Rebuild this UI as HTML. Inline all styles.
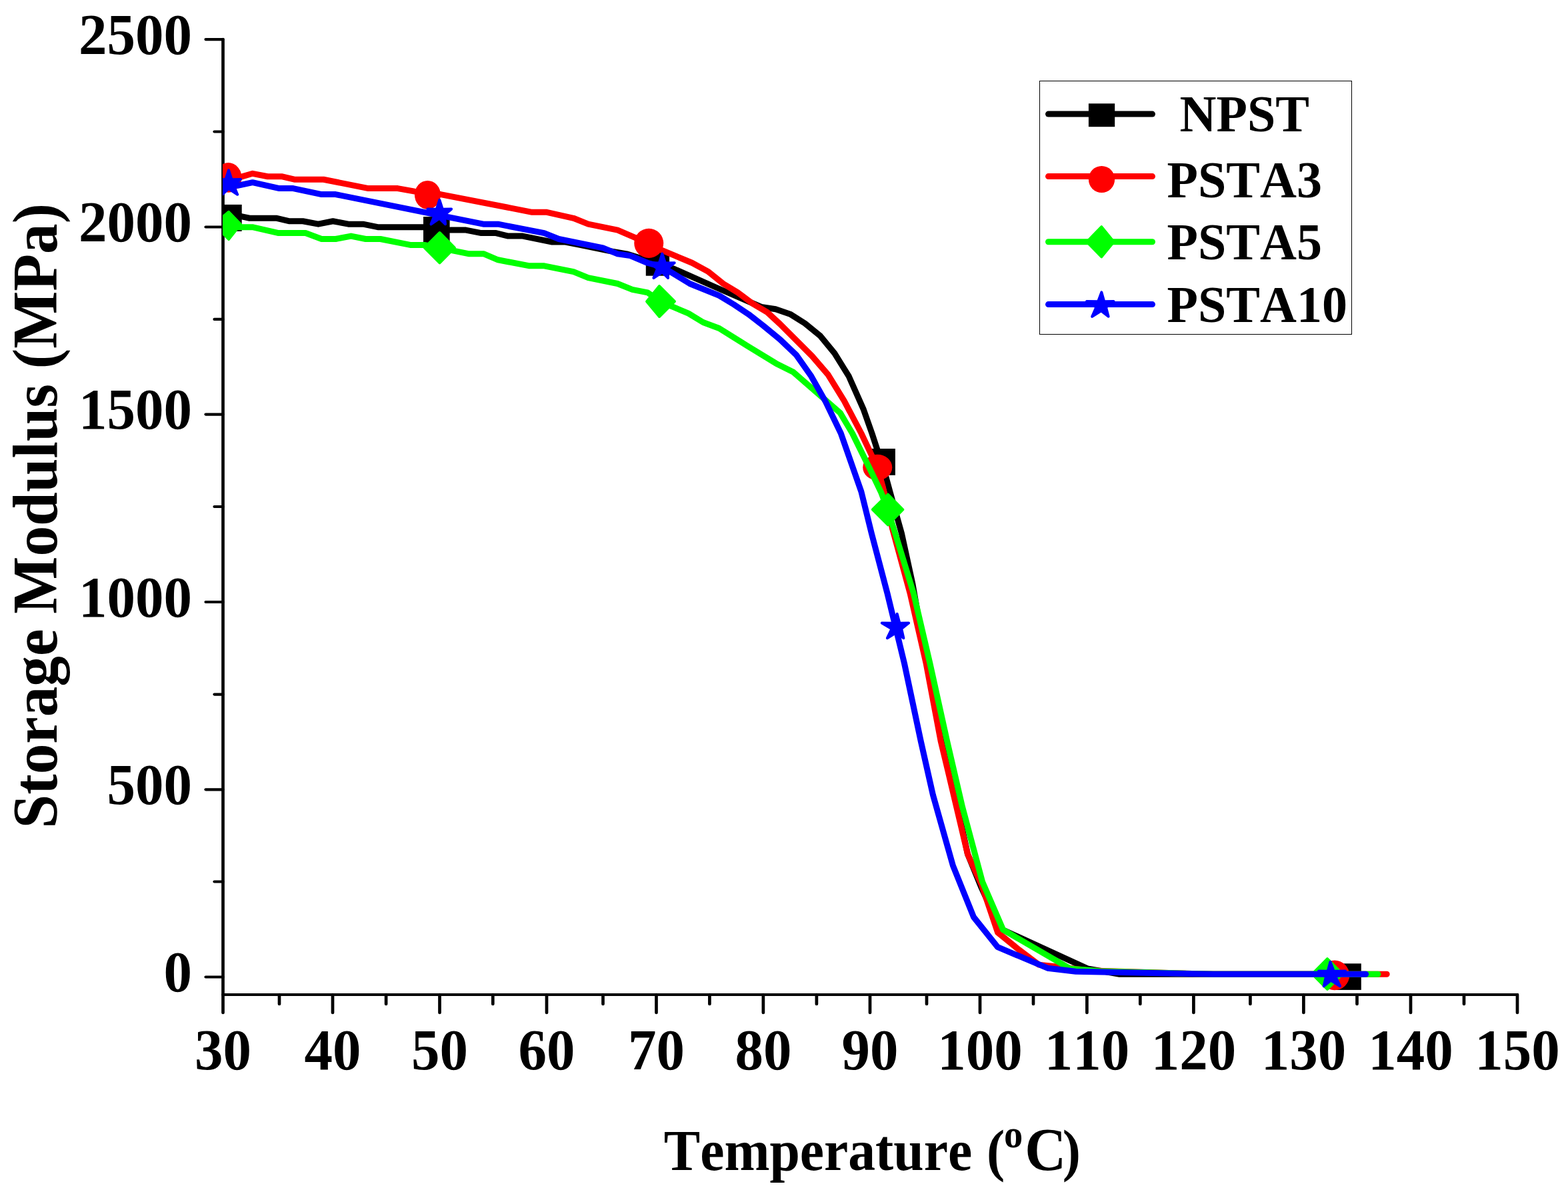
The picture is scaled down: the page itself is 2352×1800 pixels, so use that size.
<!DOCTYPE html>
<html lang="en"><head><meta charset="utf-8"><title>Storage Modulus vs Temperature</title>
<style>
html,body{margin:0;padding:0;background:#fff;}
body{width:2352px;height:1800px;overflow:hidden;}
svg{display:block;}
text{font-family:"Liberation Serif","DejaVu Serif",serif;font-weight:bold;fill:#000;font-kerning:none;font-variant-ligatures:none;}
.tk{font-size:83.3px;}
.lg{font-size:75px;}
.ax{stroke:#000;stroke-linecap:round;fill:none;}
.ln{fill:none;stroke-width:9;stroke-linejoin:round;stroke-linecap:round;}
</style></head><body>
<svg width="2352" height="1800" viewBox="0 0 2352 1800" role="img" aria-label="Storage modulus versus temperature for NPST, PSTA3, PSTA5 and PSTA10">
<rect width="2352" height="1800" fill="#fff"/>
<defs><clipPath id="plot"><rect x="334" y="0" width="2018" height="1492"/></clipPath></defs>
<g class="ax">
<line x1="334.5" y1="59.1" x2="334.5" y2="1492" stroke-width="4.7"/>
<line x1="334.5" y1="1492" x2="2276" y2="1492" stroke-width="4.2"/>
<line x1="334.5" y1="1492" x2="334.5" y2="1519" stroke-width="4.7"/>
<line x1="419" y1="1492" x2="419" y2="1506" stroke-width="4.7"/>
<line x1="499" y1="1492" x2="499" y2="1519" stroke-width="4.7"/>
<line x1="579.1" y1="1492" x2="579.1" y2="1506" stroke-width="4.7"/>
<line x1="659.5" y1="1492" x2="659.5" y2="1519" stroke-width="4.7"/>
<line x1="739.3" y1="1492" x2="739.3" y2="1506" stroke-width="4.7"/>
<line x1="820" y1="1492" x2="820" y2="1519" stroke-width="4.7"/>
<line x1="904.5" y1="1492" x2="904.5" y2="1506" stroke-width="4.7"/>
<line x1="984.5" y1="1492" x2="984.5" y2="1519" stroke-width="4.7"/>
<line x1="1064.4" y1="1492" x2="1064.4" y2="1506" stroke-width="4.7"/>
<line x1="1144.9" y1="1492" x2="1144.9" y2="1519" stroke-width="4.7"/>
<line x1="1224.9" y1="1492" x2="1224.9" y2="1506" stroke-width="4.7"/>
<line x1="1305" y1="1492" x2="1305" y2="1519" stroke-width="4.7"/>
<line x1="1390" y1="1492" x2="1390" y2="1506" stroke-width="4.7"/>
<line x1="1470" y1="1492" x2="1470" y2="1519" stroke-width="4.7"/>
<line x1="1550" y1="1492" x2="1550" y2="1506" stroke-width="4.7"/>
<line x1="1630.4" y1="1492" x2="1630.4" y2="1519" stroke-width="4.7"/>
<line x1="1710.3" y1="1492" x2="1710.3" y2="1506" stroke-width="4.7"/>
<line x1="1790.4" y1="1492" x2="1790.4" y2="1519" stroke-width="4.7"/>
<line x1="1875.4" y1="1492" x2="1875.4" y2="1506" stroke-width="4.7"/>
<line x1="1955.4" y1="1492" x2="1955.4" y2="1519" stroke-width="4.7"/>
<line x1="2035.5" y1="1492" x2="2035.5" y2="1506" stroke-width="4.7"/>
<line x1="2116" y1="1492" x2="2116" y2="1519" stroke-width="4.7"/>
<line x1="2196" y1="1492" x2="2196" y2="1506" stroke-width="4.7"/>
<line x1="2276" y1="1492" x2="2276" y2="1519" stroke-width="4.7"/>
<line x1="334.5" y1="1465.5" x2="308.5" y2="1465.5" stroke-width="4.2"/>
<line x1="334.5" y1="1322.5" x2="321.5" y2="1322.5" stroke-width="4.2"/>
<line x1="334.5" y1="1184.3" x2="308.5" y2="1184.3" stroke-width="4.2"/>
<line x1="334.5" y1="1041.6" x2="321.5" y2="1041.6" stroke-width="4.2"/>
<line x1="334.5" y1="903" x2="308.5" y2="903" stroke-width="4.2"/>
<line x1="334.5" y1="760" x2="321.5" y2="760" stroke-width="4.2"/>
<line x1="334.5" y1="621.6" x2="308.5" y2="621.6" stroke-width="4.2"/>
<line x1="334.5" y1="478.9" x2="321.5" y2="478.9" stroke-width="4.2"/>
<line x1="334.5" y1="340.5" x2="308.5" y2="340.5" stroke-width="4.2"/>
<line x1="334.5" y1="197.5" x2="321.5" y2="197.5" stroke-width="4.2"/>
<line x1="334.5" y1="59.1" x2="308.5" y2="59.1" stroke-width="4.2"/>
</g>
<g clip-path="url(#plot)">
<g>
<polyline class="ln" stroke="#000000" points="343,322.8 362,324.6 374.2,327.27 415.2,327.27 433.3,331.73 454.3,331.73 477.4,336.19 499.4,331.73 522.5,336.19 544.5,336.19 566.6,340.66 634.7,340.66 654.8,343 676,345.12 698.9,345.12 721.9,349.59 744,349.59 762.1,354.05 784.1,354.05 828.2,362.98 848.2,362.98 870,367.45 892,371.91 914,376.38 940,380.84 962,387.5 986.6,396.5 1010.6,403.16 1076,432 1142,460.5 1163.5,463.8 1186,471.6 1207.3,485 1230,503.4 1251.8,529.8 1273.4,564.7 1295.4,614.4 1307.9,650 1315.4,673 1324.7,700 1335.4,739.3 1352.4,800 1369,876.2 1377.5,925 1396,1016 1416,1112 1434,1200 1451.5,1281 1471.5,1330 1500.5,1393 1631.2,1452.9 1679.3,1461.25 1740,1461.25 1800,1461.25 2022,1461.25"/>
<rect x="323" y="306.9" width="39.7" height="40" fill="#000000"/>
<rect x="635" y="325.1" width="39.6" height="39.5" fill="#000000"/>
<rect x="968.8" y="378" width="35.3" height="35.7" fill="#000000"/>
<rect x="1306.7" y="673" width="36.2" height="39.8" fill="#000000"/>
<rect x="2002" y="1445.3" width="39.8" height="39.6" fill="#000000"/>
</g>
<g>
<polyline class="ln" stroke="#ff0000" points="343,266.5 357,266.6 378.9,260.3 401.5,264.76 423.4,264.76 441.5,269.23 485.4,269.23 552.5,282.62 596.6,282.62 621.9,287.09 641.4,289.9 661,291.55 798.1,318.34 820.2,318.34 860.3,327.27 882.3,336.19 926.4,345.12 951.9,356.1 973.5,367.45 995.3,376.38 1038,394.23 1062.7,407.63 1084.8,425.48 1106.8,438.88 1128.9,455.4 1150.9,468.4 1170.1,486.1 1218.2,534.2 1242.3,562.3 1266.3,601.4 1291.9,650 1316,701 1324.3,730.4 1338.6,793 1365.1,890 1389.1,995 1411.2,1112 1421.4,1154.1 1451.5,1281.4 1472.5,1327.5 1496.6,1398.7 1529.2,1425.2 1558.3,1447.1 1590.4,1450.5 1631.2,1455.8 1720,1458.6 1820,1461.25 2002.5,1461.25 2080.2,1461.25"/>
<ellipse cx="342.5" cy="266.4" rx="20" ry="22.3" fill="#ff0000"/>
<ellipse cx="641.45" cy="292.35" rx="19.55" ry="21.45" fill="#ff0000"/>
<ellipse cx="973.25" cy="364.86" rx="22" ry="22.1" fill="#ff0000"/>
<ellipse cx="1316.25" cy="701.1" rx="22.05" ry="19.4" fill="#ff0000"/>
<ellipse cx="2001.9" cy="1462.9" rx="22.25" ry="22.4" fill="#ff0000"/>
</g>
<g>
<polyline class="ln" stroke="#00ff00" points="343,338.5 357,340.66 378.6,340.66 417.9,349.59 458.3,349.59 482.4,358.52 503.4,358.52 526.5,354.05 548.5,358.52 570.6,358.52 615.3,367.45 636.7,367.45 659.4,371.91 703.9,380.84 725.9,380.84 747,389.77 793.1,398.7 815.2,398.7 860.3,407.63 882.3,416.56 926.4,425.48 948.5,434.41 971.5,438.88 990.6,452.27 1032.7,470.13 1054.7,483.52 1078.8,492.45 1120,518.2 1164.1,545.2 1190.2,558.3 1260.3,619.4 1278.5,650 1304.4,702.6 1322,739.3 1331.5,764.7 1342.8,800 1370.4,890 1394.9,995 1420.7,1112 1443.5,1210.2 1473.5,1322.5 1504.6,1394.6 1605,1452.9 1650,1456.78 1820,1461.25 1991.2,1461.25 2067,1461.25"/>
<path d="M343.04 317.8 L360.94 336.4 L343.04 358.9 L321.04 336.4 Z" fill="#00ff00" stroke="#00ff00" stroke-width="4" stroke-linejoin="round"/>
<path d="M659.5 349 L681.9 371.7 L659.5 394.4 L636.8 371.7 Z" fill="#00ff00" stroke="#00ff00" stroke-width="4" stroke-linejoin="round"/>
<path d="M989 429.1 L1012 452.2 L989 475 L970.1 452.2 Z" fill="#00ff00" stroke="#00ff00" stroke-width="4" stroke-linejoin="round"/>
<path d="M1331.9 741.7 L1354.3 764.3 L1331.9 787.3 L1308.9 764.3 Z" fill="#00ff00" stroke="#00ff00" stroke-width="4" stroke-linejoin="round"/>
<path d="M1991 1438.1 L2013.6 1461 L1991 1483.9 L1968.5 1461 Z" fill="#00ff00" stroke="#00ff00" stroke-width="4" stroke-linejoin="round"/>
</g>
<g>
<polyline class="ln" stroke="#0000ff" points="343,278.16 357.8,278.16 378.9,273.69 419,282.62 439.8,282.62 482.4,291.55 503.4,291.55 658.8,322.8 724.9,336.19 747,336.19 816.2,349.59 838.2,358.52 904.4,371.91 926.4,380.84 945.5,383.6 971,394.23 993.6,400.3 1034.7,425.48 1078.8,443.34 1100.8,456.74 1122.9,471.4 1144.9,488.5 1170.1,509.2 1194.2,532.2 1216.2,563.3 1238.3,602.4 1261.3,650 1291.9,737.5 1307.3,800 1331,890 1356.5,995 1381.3,1112 1399.4,1192.2 1429.4,1298.4 1460.5,1375.6 1496.6,1420.7 1571.4,1452.2 1613.7,1457.3 1820,1461.25 1996.4,1461.25 2048.7,1461.25"/>
<path d="M343 255.3 L347.53 269.17 L361 269 L350.32 277.78 L356.2 291.7 L343 283.1 L333.3 291.7 L335.68 277.78 L325 269 L338.47 269.17 Z" fill="#0000ff" stroke="#0000ff" stroke-width="4" stroke-linejoin="round"/>
<path d="M659.3 299.9 L663.81 313.77 L677.1 313.6 L666.61 322.38 L668.1 336.3 L659.28 327.7 L646.5 336.3 L651.96 322.38 L641.4 313.6 L654.76 313.77 Z" fill="#0000ff" stroke="#0000ff" stroke-width="4" stroke-linejoin="round"/>
<path d="M993.35 380.6 L997.94 394.47 L1011.75 394.3 L1000.73 403.08 L1002.1 417 L993.41 408.4 L980.4 417 L986.09 403.08 L975.35 394.3 L988.88 394.47 Z" fill="#0000ff" stroke="#0000ff" stroke-width="4" stroke-linejoin="round"/>
<path d="M1345.7 920.8 L1349.4 934.67 L1363.1 934.5 L1352.2 943.28 L1355.4 957.2 L1344.88 948.6 L1330.9 957.2 L1337.55 943.28 L1322.8 934.5 L1340.35 934.67 Z" fill="#0000ff" stroke="#0000ff" stroke-width="4" stroke-linejoin="round"/>
<path d="M1995.45 1442.8 L2000.75 1456.67 L2018.05 1456.5 L2003.55 1465.28 L2010.05 1479.2 L1996.22 1470.6 L1985.65 1479.2 L1988.9 1465.28 L1978 1456.5 L1991.7 1456.67 Z" fill="#0000ff" stroke="#0000ff" stroke-width="4" stroke-linejoin="round"/>
</g>
</g>
<g class="tk" text-anchor="middle">
<text transform="translate(334.5,1604.2) scale(1.02,1.043)">30</text>
<text transform="translate(499,1604.2) scale(1.02,1.043)">40</text>
<text transform="translate(659.5,1604.2) scale(1.02,1.043)">50</text>
<text transform="translate(820,1604.2) scale(1.02,1.043)">60</text>
<text transform="translate(984.5,1604.2) scale(1.02,1.043)">70</text>
<text transform="translate(1144.9,1604.2) scale(1.02,1.043)">80</text>
<text transform="translate(1305,1604.2) scale(1.02,1.043)">90</text>
<text transform="translate(1470,1604.2) scale(1.02,1.043)">100</text>
<text transform="translate(1630.4,1604.2) scale(1.02,1.043)">110</text>
<text transform="translate(1790.4,1604.2) scale(1.02,1.043)">120</text>
<text transform="translate(1955.4,1604.2) scale(1.02,1.043)">130</text>
<text transform="translate(2116,1604.2) scale(1.02,1.043)">140</text>
<text transform="translate(2276,1604.2) scale(1.02,1.043)">150</text>
</g>
<g class="tk" text-anchor="end">
<text transform="translate(288.0,1487.1) scale(1.02,1.043)">0</text>
<text transform="translate(288.0,1205.9) scale(1.02,1.043)">500</text>
<text transform="translate(288.0,924.6) scale(1.02,1.043)">1000</text>
<text transform="translate(288.0,643.2) scale(1.02,1.043)">1500</text>
<text transform="translate(288.0,362.1) scale(1.02,1.043)">2000</text>
<text transform="translate(288.0,80.7) scale(1.02,1.043)">2500</text>
</g>
<text transform="translate(995.7,1754.9) scale(0.98,1.039)" style="font-size:83.33px" xml:space="preserve">Temperature <tspan x="494.1" y="0">(</tspan><tspan x="520.6" y="-32.6" style="font-size:57.6px">o</tspan><tspan x="552.6" y="0.3" style="font-size:87.5px">C</tspan><tspan x="610.2" y="0">)</tspan></text>
<text transform="translate(85.2,773.7) rotate(-90) scale(0.9954,1.04)" text-anchor="middle" style="font-size:91.67px">Storage Modulus (MPa)</text>
<rect x="1559.5" y="121.5" width="468" height="380" fill="#fff" stroke="#000" stroke-width="1" shape-rendering="crispEdges"/>
<line class="ln" stroke="#000000" x1="1572.5" y1="171.1" x2="1728.5" y2="171.1"/>
<rect x="1632.9" y="155.3" width="39.3" height="34.9" fill="#000000"/>
<text class="lg" transform="translate(1750.6,197) scale(1.014,1.036)" xml:space="preserve"> NPST</text>
<line class="ln" stroke="#ff0000" x1="1572.5" y1="264.6" x2="1728.5" y2="264.6"/>
<ellipse cx="1652.5" cy="269" rx="19.65" ry="20.1" fill="#ff0000"/>
<text class="lg" transform="translate(1750.6,295.8) scale(1.014,1.036)" xml:space="preserve">PSTA3</text>
<line class="ln" stroke="#00ff00" x1="1572.5" y1="362.8" x2="1728.5" y2="362.8"/>
<path d="M1652.3 340.2 L1670.7 362.75 L1652.3 385.3 L1630.4 362.75 Z" fill="#00ff00" stroke="#00ff00" stroke-width="4" stroke-linejoin="round"/>
<text class="lg" transform="translate(1750.6,389.4) scale(1.014,1.036)" xml:space="preserve">PSTA5</text>
<line class="ln" stroke="#0000ff" x1="1572.5" y1="456.6" x2="1728.5" y2="456.6"/>
<path d="M1652.3 438.4 L1656.21 452.27 L1670.5 452.1 L1659.01 460.88 L1662.6 474.8 L1651.68 466.2 L1638.2 474.8 L1644.36 460.88 L1630 452.1 L1647.16 452.27 Z" fill="#0000ff" stroke="#0000ff" stroke-width="4" stroke-linejoin="round"/>
<text class="lg" transform="translate(1750.6,483.1) scale(1.014,1.036)" xml:space="preserve">PSTA10</text>
</svg>
</body></html>
